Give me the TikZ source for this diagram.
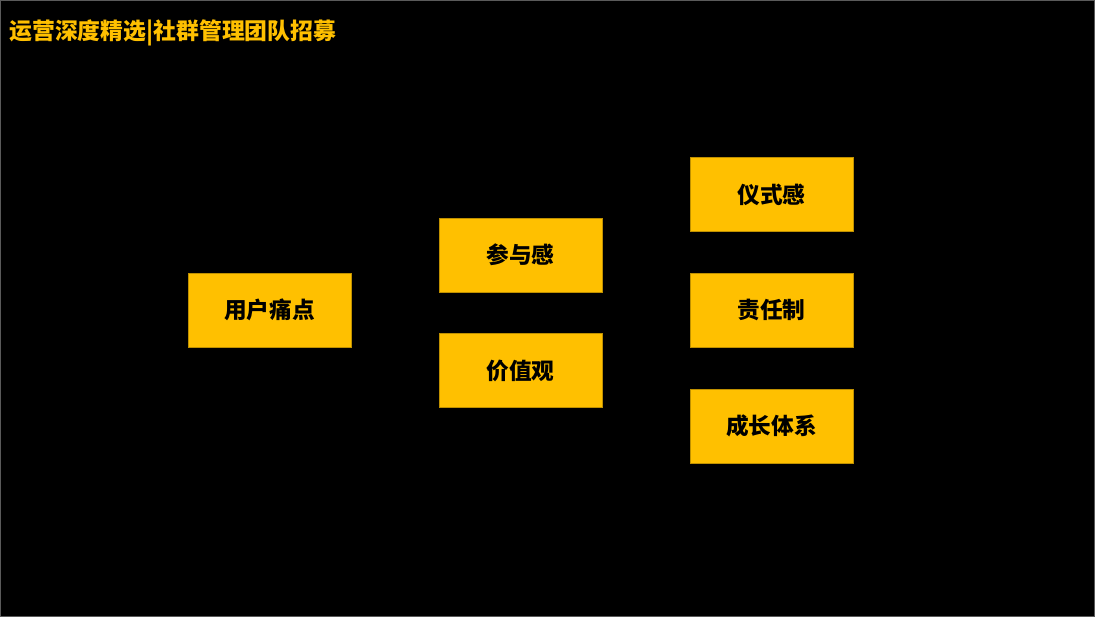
\documentclass[tikz,border=0pt]{standalone}
\usepackage{fontspec}
\newfontfamily\cjk{Noto Sans CJK SC}
\usepackage{tikz}
\usetikzlibrary{positioning}
\definecolor{BoxYellow}{RGB}{255,192,0}
\definecolor{BoxEdge}{RGB}{191,144,0}
\definecolor{FrameGray}{RGB}{90,90,90}

\begin{document}
\begin{tikzpicture}[x=0.02cm,y=-0.02cm,
    topic/.style={draw=BoxEdge,fill=BoxYellow,line width=0.4pt,
                  minimum width=3.26cm,minimum height=1.48cm,inner sep=0pt,
                  font=\cjk\bfseries\fontsize{12.9}{14}\selectfont,text=black},
    headline/.style={anchor=west,inner sep=0pt,
                     font=\cjk\bfseries\fontsize{13}{15}\selectfont,text=BoxYellow}]

    % canvas
    \fill[black] (0,0) rectangle (1095,617);
    \draw[FrameGray,line width=0.6pt] (0.5,0.5) rectangle (1094.5,616.5);

    \node[headline] (title) at (9,32.5) {运营深度精选|社群管理团队招募};

    \node[topic] (pain) at (269.5,310) {用户痛点};

    \node[topic] (join)  at (520.5,255)   {参与感};
    \node[topic] (value) at (520.5,370.5) {价值观};

    \node[topic] (ritual) at (771.5,194.5) {仪式感};
    \node[topic] (duty)   at (771.5,310)   {责任制};
    \node[topic] (growth) at (771.5,426)   {成长体系};
\end{tikzpicture}
\end{document}
